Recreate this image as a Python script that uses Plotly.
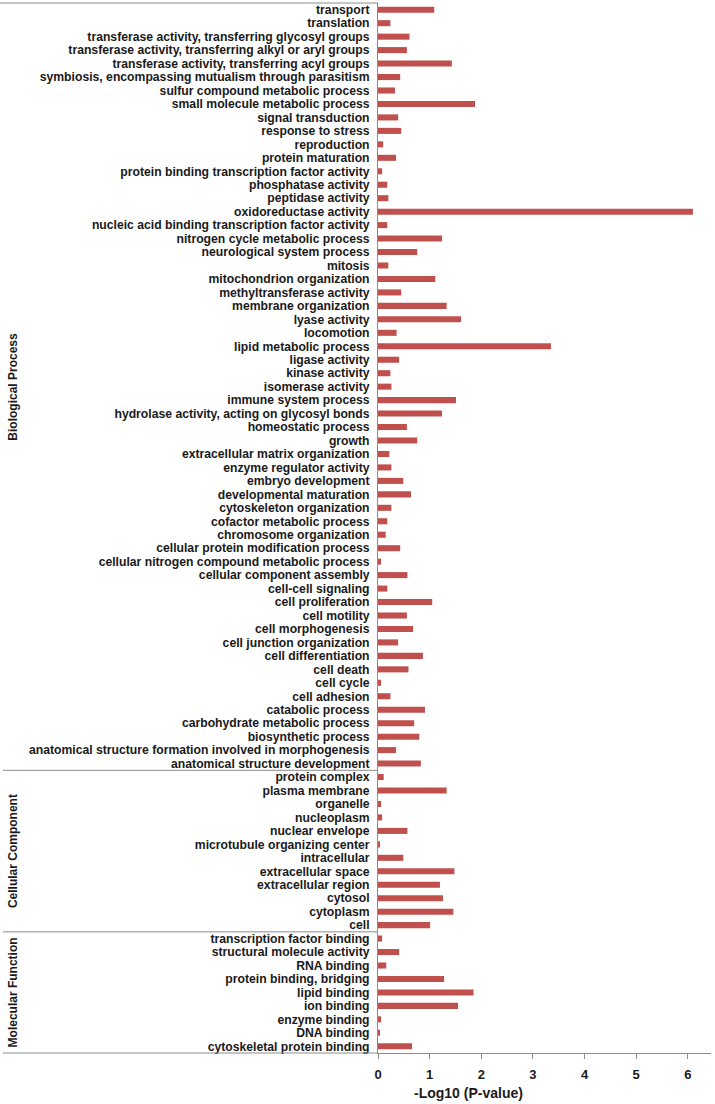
import plotly.graph_objects as go

bp_terms = [
    "transport", "translation",
    "transferase activity, transferring glycosyl groups",
    "transferase activity, transferring alkyl or aryl groups",
    "transferase activity, transferring acyl groups",
    "symbiosis, encompassing mutualism through parasitism",
    "sulfur compound metabolic process", "small molecule metabolic process",
    "signal transduction", "response to stress", "reproduction",
    "protein maturation", "protein binding transcription factor activity",
    "phosphatase activity", "peptidase activity", "oxidoreductase activity",
    "nucleic acid binding transcription factor activity",
    "nitrogen cycle metabolic process", "neurological system process",
    "mitosis", "mitochondrion organization", "methyltransferase activity",
    "membrane organization", "lyase activity", "locomotion",
    "lipid metabolic process", "ligase activity", "kinase activity",
    "isomerase activity", "immune system process",
    "hydrolase activity, acting on glycosyl bonds", "homeostatic process",
    "growth", "extracellular matrix organization", "enzyme regulator activity",
    "embryo development", "developmental maturation",
    "cytoskeleton organization", "cofactor metabolic process",
    "chromosome organization", "cellular protein modification process",
    "cellular nitrogen compound metabolic process",
    "cellular component assembly", "cell-cell signaling", "cell proliferation",
    "cell motility", "cell morphogenesis", "cell junction organization",
    "cell differentiation", "cell death", "cell cycle", "cell adhesion",
    "catabolic process", "carbohydrate metabolic process",
    "biosynthetic process",
    "anatomical structure formation involved in morphogenesis",
    "anatomical structure development",
]
bp_values = [
    1.09, 0.24, 0.61, 0.56, 1.43, 0.43, 0.33, 1.88, 0.39, 0.45, 0.10,
    0.35, 0.08, 0.18, 0.20, 6.10, 0.18, 1.24, 0.76, 0.20, 1.11, 0.45,
    1.33, 1.61, 0.36, 3.35, 0.41, 0.24, 0.26, 1.51, 1.24, 0.56, 0.76,
    0.22, 0.26, 0.49, 0.64, 0.26, 0.18, 0.15, 0.43, 0.06, 0.57, 0.18,
    1.05, 0.56, 0.68, 0.39, 0.87, 0.59, 0.06, 0.24, 0.91, 0.70, 0.80,
    0.35, 0.83,
]

cc_terms = [
    "protein complex", "plasma membrane", "organelle", "nucleoplasm",
    "nuclear envelope", "microtubule organizing center", "intracellular",
    "extracellular space", "extracellular region", "cytosol", "cytoplasm",
    "cell",
]
cc_values = [0.11, 1.33, 0.06, 0.08, 0.57, 0.03, 0.49, 1.48, 1.20, 1.26, 1.46, 1.01]

mf_terms = [
    "transcription factor binding", "structural molecule activity",
    "RNA binding", "protein binding, bridging", "lipid binding",
    "ion binding", "enzyme binding", "DNA binding",
    "cytoskeletal protein binding",
]
mf_values = [0.08, 0.41, 0.16, 1.28, 1.85, 1.55, 0.06, 0.03, 0.66]

group_names = ["Biological Process", "Cellular Component", "Molecular Function"]
x_ticks = [0, 1, 2, 3, 4, 5, 6]
x_title = "-Log10 (P-value)"

terms = bp_terms + cc_terms + mf_terms
values = bp_values + cc_values + mf_values
n = len(terms)
keys = [f"{i}" for i in range(n)]

W, H = 715, 1104
ML, MR, MT, MB = 378, 4, 3, 51
pw = W - ML - MR
ph = H - MT - MB

fig = go.Figure(go.Bar(
    x=values, y=keys, orientation="h",
    marker=dict(color="#C0504D", line=dict(width=0)),
    hoverinfo="skip",
))

text_color = "#1a1a1a"
fig.update_layout(
    width=W, height=H,
    margin=dict(l=ML, r=MR, t=MT, b=MB, autoexpand=False),
    paper_bgcolor="white", plot_bgcolor="white",
    bargap=0.55, showlegend=False,
    font=dict(family="Liberation Sans, Arial, sans-serif", color=text_color),
)
fig.update_yaxes(
    type="category", categoryorder="array", categoryarray=keys,
    tickmode="array", tickvals=keys, ticktext=terms,
    range=[n - 0.5, -0.5],
    showline=True, linecolor="#8c8c8c", linewidth=1,
    showgrid=False, zeroline=False, ticks="",
    ticklabelstandoff=5, automargin=False,
    tickfont=dict(size=12.2, weight="bold", color=text_color),
)
fig.update_xaxes(
    range=[0, 6.45],
    tickmode="array", tickvals=x_ticks,
    showline=True, linecolor="#8c8c8c", linewidth=1,
    showgrid=False, zeroline=False,
    ticks="outside", ticklen=5, tickcolor="#8c8c8c",
    ticklabelstandoff=4, automargin=False,
    tickfont=dict(size=13, weight="bold", color=text_color),
)

x_left = (3 - ML) / pw
bounds = [0, len(bp_terms), len(bp_terms) + len(cc_terms), n]
for b in bounds:
    yb = 1 - b / n
    fig.add_shape(type="line", xref="paper", yref="paper",
                  x0=(0 - ML) / pw if b == 0 else x_left, x1=0, y0=yb, y1=yb,
                  line=dict(color="#8c8c8c", width=1))

for gi, name in enumerate(group_names):
    yc = 1 - (bounds[gi] + bounds[gi + 1]) / 2 / n
    fig.add_annotation(text=name, xref="paper", yref="paper",
                       x=(13 - ML) / pw, y=yc, textangle=-90,
                       showarrow=False, xanchor="center", yanchor="middle",
                       font=dict(size=12, weight="bold", color=text_color))

fig.add_annotation(text=x_title, xref="paper", yref="paper",
                   x=(468 - ML) / pw, y=-(1093 - (MT + ph)) / ph,
                   showarrow=False, xanchor="center", yanchor="middle",
                   font=dict(size=14, weight="bold", color=text_color))

fig.write_html("out.html", config={"displayModeBar": False},
               post_script="document.body.style.margin='0';document.body.style.overflow='hidden';")
